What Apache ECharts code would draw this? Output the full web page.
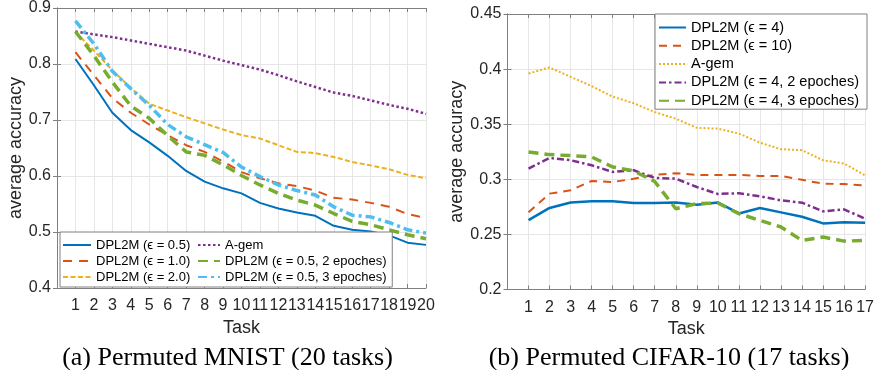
<!DOCTYPE html>
<html>
<head>
<meta charset="utf-8">
<script src="https://cdn.jsdelivr.net/npm/echarts@6/dist/echarts.min.js"></script>
<style>
html,body{margin:0;padding:0;background:#fff;}
#chart{width:877px;height:370px;}
</style>
</head>
<body>
<div id="chart"></div>
<script>
// ---- Data: Permuted MNIST (20 tasks) ----
const mnistTasks = [1,2,3,4,5,6,7,8,9,10,11,12,13,14,15,16,17,18,19,20];
const mnistEps05 = [0.809,0.762,0.713,0.682,0.660,0.636,0.609,0.590,0.578,0.569,0.552,0.542,0.535,0.529,0.511,0.504,0.501,0.494,0.481,0.477];
const mnistEps10 = [0.821,0.780,0.739,0.713,0.692,0.673,0.655,0.643,0.626,0.607,0.596,0.587,0.582,0.574,0.561,0.558,0.552,0.545,0.532,0.525];
const mnistEps20 = [0.857,0.824,0.789,0.757,0.729,0.717,0.705,0.694,0.683,0.673,0.667,0.655,0.643,0.641,0.634,0.625,0.619,0.612,0.602,0.596];
const mnistAgem  = [0.858,0.853,0.848,0.842,0.836,0.830,0.824,0.815,0.806,0.798,0.790,0.780,0.769,0.759,0.749,0.743,0.735,0.727,0.720,0.711];
const mnist2ep   = [0.858,0.815,0.768,0.725,0.703,0.672,0.643,0.637,0.620,0.601,0.584,0.569,0.557,0.548,0.533,0.519,0.513,0.504,0.495,0.488];
const mnist3ep   = [0.877,0.836,0.787,0.756,0.726,0.692,0.670,0.656,0.642,0.616,0.599,0.584,0.574,0.566,0.545,0.530,0.527,0.517,0.504,0.498];

// ---- Data: Permuted CIFAR-10 (17 tasks) ----
const cifarTasks = [1,2,3,4,5,6,7,8,9,10,11,12,13,14,15,16,17];
const cifarEps4  = [0.263,0.274,0.279,0.280,0.280,0.2785,0.2785,0.279,0.277,0.279,0.269,0.274,0.270,0.266,0.260,0.261,0.2605];
const cifarEps10 = [0.270,0.287,0.290,0.2985,0.2975,0.3005,0.304,0.3055,0.304,0.304,0.304,0.303,0.303,0.2995,0.296,0.2957,0.2945];
const cifarAgem  = [0.396,0.4015,0.393,0.3845,0.375,0.369,0.361,0.355,0.3467,0.346,0.3415,0.3333,0.3273,0.3264,0.3173,0.3143,0.3036];
const cifar2ep   = [0.3097,0.3194,0.3173,0.3127,0.3067,0.3082,0.3012,0.3006,0.293,0.2867,0.2873,0.2845,0.2809,0.2788,0.2709,0.2727,0.2643];
const cifar3ep   = [0.3248,0.3224,0.3215,0.3203,0.3112,0.3076,0.298,0.2733,0.2779,0.2785,0.2688,0.2627,0.2567,0.2445,0.2476,0.2439,0.2445];

// ---- Tick values ----
const mnistYTicks = {min:0.4, max:0.9, interval:0.1};
const cifarYTicks = {min:0.2, max:0.45, interval:0.05};
const mnistXTicks = {min:0, max:20, interval:1};
const cifarXTicks = {min:0, max:17, interval:1};

const namesL = ['DPL2M (ϵ = 0.5)','DPL2M (ϵ = 1.0)','DPL2M (ϵ = 2.0)','A-gem','DPL2M (ϵ = 0.5, 2 epoches)','DPL2M (ϵ = 0.5, 3 epoches)'];
const namesR = ['DPL2M (ϵ = 4)','DPL2M (ϵ = 10)','A-gem ','DPL2M (ϵ = 4, 2 epoches)','DPL2M (ϵ = 4, 3 epoches)'];

const C = {blue:'#0072BD', red:'#D95319', yellow:'#EDB120', purple:'#7E2F8E', green:'#77AC30', cyan:'#4DBEEE'};
const SANS = 'Liberation Sans, Arial, Helvetica, sans-serif';
const SERIF = 'Liberation Serif, Times New Roman, serif';
const AX = '#808080';
const TXT = '#262626';

function pairs(xs, ys){ return xs.map((x,i)=>[x, ys[i]]); }
function fmtY(v){ return String(parseFloat(v.toFixed(2))); }

function xAxes(gi, t){
  return [
    {gridIndex:gi, type:'value', position:'bottom', min:t.min, max:t.max, interval:t.interval,
     name:'Task', nameLocation:'middle', nameGap:29,
     nameTextStyle:{fontFamily:SANS, fontSize:18, color:TXT},
     axisLine:{lineStyle:{color:AX, width:1}},
     axisTick:{inside:true, length:4, lineStyle:{color:AX}},
     axisLabel:{fontFamily:SANS, fontSize:16, color:TXT, margin:10, formatter:v=> v===0?'':String(v)},
     splitLine:{show:true, lineStyle:{color:'#e6e6e6', width:1}}},
    {gridIndex:gi, type:'value', position:'top', min:t.min, max:t.max, interval:t.interval,
     axisLine:{lineStyle:{color:AX, width:1}},
     axisTick:{inside:true, length:4, lineStyle:{color:AX}},
     axisLabel:{show:false}, splitLine:{show:false}}
  ];
}
function yAxes(gi, t, gap){
  return [
    {gridIndex:gi, type:'value', position:'left', min:t.min, max:t.max, interval:t.interval,
     name:'average accuracy', nameLocation:'middle', nameGap:gap,
     nameTextStyle:{fontFamily:SANS, fontSize:18, color:TXT},
     axisLine:{show:true, lineStyle:{color:AX, width:1}},
     axisTick:{show:true, inside:true, length:4, lineStyle:{color:AX}},
     axisLabel:{fontFamily:SANS, fontSize:16, color:TXT, margin:6, formatter:fmtY},
     splitLine:{show:true, lineStyle:{color:'#e6e6e6', width:1}}},
    {gridIndex:gi, type:'value', position:'right', min:t.min, max:t.max, interval:t.interval,
     axisLine:{show:true, lineStyle:{color:AX, width:1}},
     axisTick:{show:true, inside:true, length:4, lineStyle:{color:AX}},
     axisLabel:{show:false}, splitLine:{show:false}}
  ];
}

function line(name, xi, yi, xs, ys, color, width, type){
  return {name, type:'line', xAxisIndex:xi, yAxisIndex:yi, data:pairs(xs, ys),
          showSymbol:false, symbol:'none', animation:false,
          lineStyle:{color, width, type}, itemStyle:{color}};
}

const legendText = (fs, lh)=>({fontFamily:SANS, fontSize:fs, color:'#000', lineHeight:lh});
const noSym = {opacity:0, borderWidth:0};

const option = {
  animation:false,
  backgroundColor:'#fff',
  title:[
    {text:'(a) Permuted MNIST (20 tasks)', left:222.5, top:340, textAlign:'center',
     textStyle:{fontFamily:SERIF, fontSize:26, fontWeight:'normal', color:'#000'}},
    {text:'(b) Permuted CIFAR-10 (17 tasks)', left:664, top:340, textAlign:'center',
     textStyle:{fontFamily:SERIF, fontSize:26, fontWeight:'normal', color:'#000'}}
  ],
  grid:[
    {left:57, top:7.5, width:369, height:280.5},
    {left:507.5, top:14, width:359.5, height:275.5}
  ],
  xAxis:[...xAxes(0, mnistXTicks), ...xAxes(1, cifarXTicks)],
  yAxis:[...yAxes(0, mnistYTicks, 30), ...yAxes(1, cifarYTicks, 40)],
  legend:[
    {orient:'vertical', left:60, top:232, itemWidth:28, itemHeight:10, itemGap:2,
     padding:[6,202,3,2], backgroundColor:'#fff', borderColor:AX, borderWidth:1, borderRadius:0,
     itemStyle:noSym,
     data:[namesL[0], namesL[1], namesL[2]], textStyle:legendText(13,14), selectedMode:false, z:5},
    {orient:'vertical', left:197, top:238, itemWidth:22, itemHeight:10, itemGap:2,
     padding:0, itemStyle:noSym,
     data:[namesL[3], namesL[4], namesL[5]], textStyle:legendText(13,14), selectedMode:false, z:6},
    {orient:'vertical', left:655, top:14, itemWidth:27, itemHeight:10, itemGap:3.3,
     padding:[6,8,1,3], backgroundColor:'#fff', borderColor:AX, borderWidth:1, borderRadius:0,
     itemStyle:noSym,
     data:namesR, textStyle:legendText(14.5,15), selectedMode:false, z:5}
  ],
  series:[
    line(namesL[0], 0, 0, mnistTasks, mnistEps05, C.blue, 2, 'solid'),
    line(namesL[1], 0, 0, mnistTasks, mnistEps10, C.red, 2, [9,7]),
    line(namesL[2], 0, 0, mnistTasks, mnistEps20, C.yellow, 2, [5,2.5]),
    line(namesL[3], 0, 0, mnistTasks, mnistAgem, C.purple, 2.5, [2.5,2.5]),
    line(namesL[4], 0, 0, mnistTasks, mnist2ep, C.green, 3.5, [10,6]),
    line(namesL[5], 0, 0, mnistTasks, mnist3ep, C.cyan, 3.5, [9,4,3,4]),
    line(namesR[0], 2, 2, cifarTasks, cifarEps4, C.blue, 2.5, 'solid'),
    line(namesR[1], 2, 2, cifarTasks, cifarEps10, C.red, 2, [8,6]),
    line(namesR[2], 2, 2, cifarTasks, cifarAgem, C.yellow, 2, [2,2]),
    line(namesR[3], 2, 2, cifarTasks, cifar2ep, C.purple, 2.5, [7,3,2.5,3]),
    line(namesR[4], 2, 2, cifarTasks, cifar3ep, C.green, 3.5, [10,6])
  ]
};

const chart = echarts.init(document.getElementById('chart'), null, {renderer:'canvas'});
chart.setOption(option);
</script>
</body>
</html>
